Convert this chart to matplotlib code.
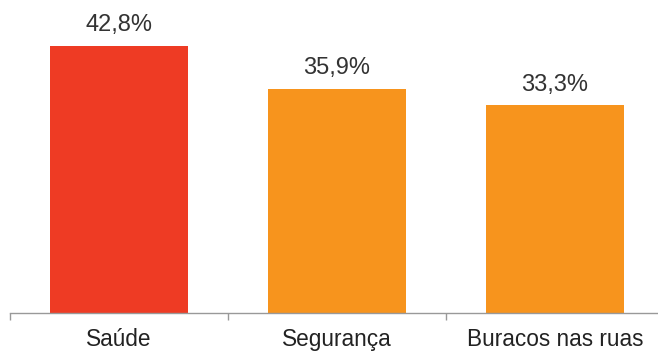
import matplotlib
matplotlib.use("Agg")
import matplotlib.pyplot as plt
import numpy as np

categories = ["Saúde", "Segurança", "Buracos nas ruas"]
values = [42.8, 35.9, 33.3]
value_labels = ["42,8%", "35,9%", "33,3%"]
colors = ["#EE3B24", "#F7941D", "#F7941D"]

plt.rcParams['font.family'] = ['Liberation Sans', 'DejaVu Sans']

fig = plt.figure(figsize=(6.58, 3.51), dpi=100)
ax = fig.add_axes([10/658, 38/351, 654/658, 313/351])

x = np.arange(len(categories))
bars = ax.bar(x, values, width=0.63, color=colors)
for b, lab in zip(bars, value_labels):
    ax.annotate(lab, (b.get_x() + b.get_width()/2, b.get_height()),
                xytext=(0, 7), textcoords="offset points",
                ha="center", va="bottom", fontsize=17, color="#333333")

ax.set_xlim(-0.5, len(categories) - 0.5)
ax.set_ylim(0, 50.2)
ax.set_xticks(x)
ax.set_xticklabels(categories, fontsize=16.3, color="#222222")
ax.tick_params(axis='x', which='major', length=0, pad=11)
ax.set_xticks(np.arange(len(categories) + 1) - 0.5, minor=True)
ax.tick_params(axis='x', which='minor', length=5, width=1, color="#999999", direction='out')
ax.set_yticks([])
for s in ["top", "right", "left"]:
    ax.spines[s].set_visible(False)
ax.spines["bottom"].set_color("#999999")
ax.spines["bottom"].set_linewidth(1)

fig.savefig("out.png", dpi=100)
